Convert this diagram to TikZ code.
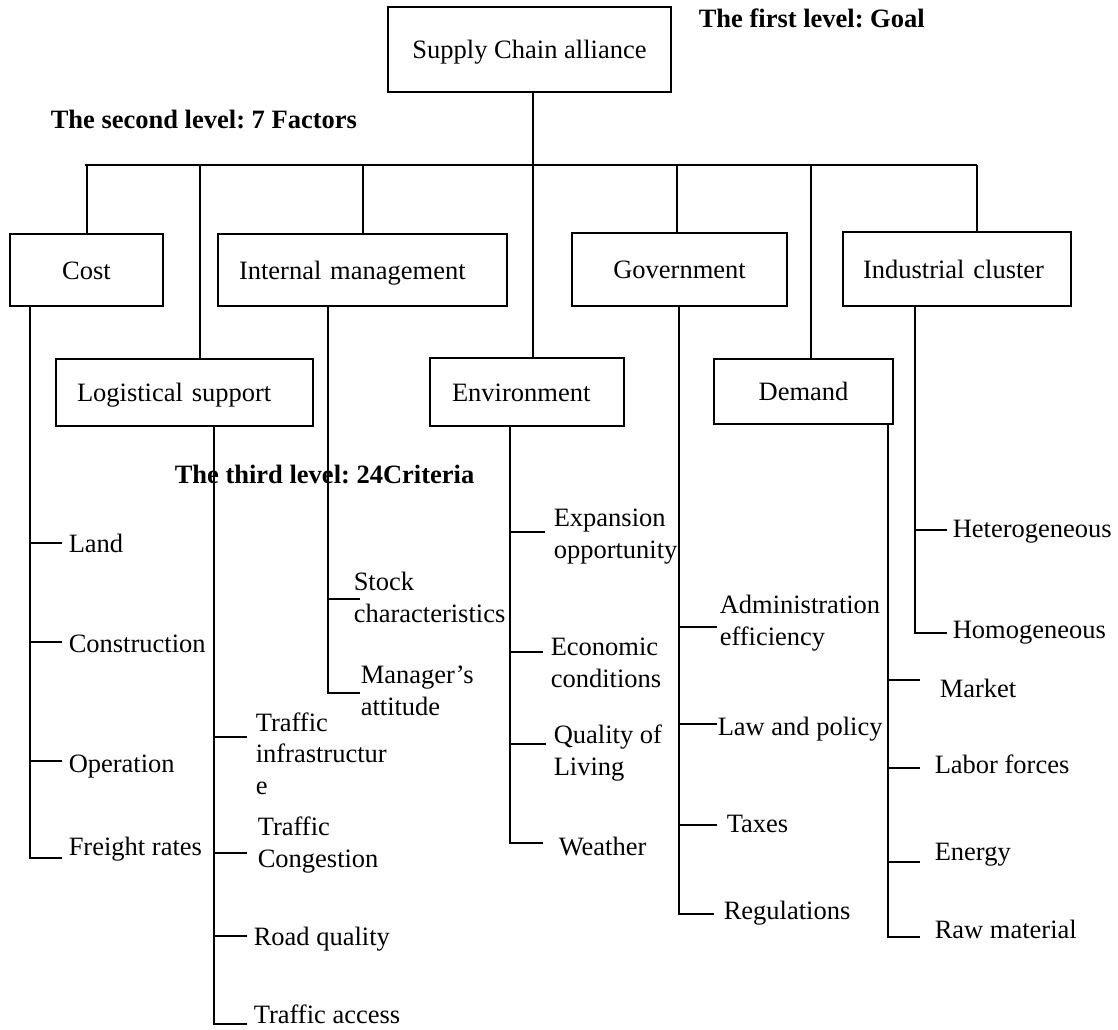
\documentclass[tikz,border=0pt]{standalone}
\usepackage{fontspec}
\setmainfont{Liberation Serif}
\newcommand\myfs{\fontsize{26.5}{31.5}\selectfont\frenchspacing}
\begin{document}
\begin{tikzpicture}[x=1pt,y=-1pt,line width=1.5pt,
  box/.style={draw, line width=1.5pt, inner ysep=0pt, font=\myfs, text height=18.5pt, text depth=0pt},
  cbox/.style 2 args={box, inner xsep=0pt, minimum width=#1, minimum height=#2},
  lbox/.style n args={3}{box, inner xsep=#1, text width=#2, minimum height=#3, align=left},
  crit/.style={anchor=base west, inner sep=0pt, font=\myfs, align=left},
  lvl/.style={anchor=base west, inner sep=0pt, font=\myfs\bfseries}]
\useasboundingbox (0,0) rectangle (1118,1029);

% level titles
\node[lvl] (l1) at (698,27) {The first level: Goal};
\node[lvl] (l2) at (50,128) {The second level: 7 Factors};
\node[lvl] (l3) at (174,483) {The third level: 24Criteria};

% goal and factor boxes
\node[cbox={283pt}{85pt}] (goal) at (529.5,49.5) {Supply Chain alliance};
\node[cbox={153pt}{72pt}] (cost) at (86.5,270) {Cost};
\node[lbox={21pt}{247pt}{72pt}] (intm) at (362.5,270) {Internal management};
\node[cbox={215pt}{73pt}] (gov) at (679.5,269.5) {Government};
\node[lbox={20pt}{188pt}{74pt}] (ind) at (957,269) {Industrial cluster};
\node[lbox={21pt}{215pt}{67pt}] (log) at (184.5,392.5) {Logistical support};
\node[lbox={22pt}{150pt}{68pt}] (env) at (527,392) {Environment};
\node[cbox={179pt}{65pt}] (dem) at (803.5,391.5) {Demand};

% goal to factors
\coordinate (busL) at (85,165);
\coordinate (busR) at (977,165);
\draw (busL) -- (busR);
\draw (goal.south -| 533,0) -- (env.north -| 533,0);
\draw (cost.north -| 87,0) -- (87,165);
\draw (log.north -| 200,0) -- (200,165);
\draw (intm.north -| 363,0) -- (363,165);
\draw (gov.north -| 677,0) -- (677,165);
\draw (dem.north -| 811,0) -- (811,165);
\draw (ind.north -| 977,0) -- (busR);

% criteria spines
\draw (cost.south -| 30,0) |- (62,858);
\foreach \y in {543,642,761} \draw (30,\y) -- (62,\y);
\draw (log.south -| 214,0) |- (247,1024);
\foreach \y in {737,853,936} \draw (214,\y) -- (247,\y);
\draw (intm.south -| 328,0) |- (360,693);
\draw (328,599) -- (360,599);
\draw (env.south -| 510,0) |- (543,843);
\draw (510,532) -- (545,532);
\draw (510,652) -- (543,652);
\draw (510,744) -- (546,744);
\draw (gov.south -| 679,0) |- (714,914);
\foreach \y in {627,724,825} \draw (679,\y) -- (717,\y);
\draw (dem.south -| 888,0) |- (920,937);
\foreach \y in {680,768,862} \draw (888,\y) -- (920,\y);
\draw (ind.south -| 915,0) |- (947,633);
\draw (915,530) -- (947,530);

% criteria labels (y = baseline of last line)
\node[crit] (c1) at (68,552) {Land};
\node[crit] (c2) at (68,652) {Construction};
\node[crit] (c3) at (68,772) {Operation};
\node[crit] (c4) at (68,855) {Freight rates};
\node[crit] (c5) at (255,794) {Traffic\\infrastructur\\e};
\node[crit] (c6) at (257,867) {Traffic\\Congestion};
\node[crit] (c7) at (253,945) {Road quality};
\node[crit] (c8) at (253,1023) {Traffic access};
\node[crit] (c9) at (353,622) {Stock\\characteristics};
\node[crit] (c10) at (360,715) {Manager’s\\attitude};
\node[crit] (c11) at (553,558) {Expansion\\opportunity};
\node[crit] (c12) at (550,687) {Economic\\conditions};
\node[crit] (c13) at (553,775) {Quality of\\Living};
\node[crit] (c14) at (558,855) {Weather};
\node[crit] (c15) at (719,645) {Administration\\efficiency};
\node[crit] (c16) at (717,735) {Law and policy};
\node[crit] (c17) at (726,832) {Taxes};
\node[crit] (c18) at (723,919) {Regulations};
\node[crit] (c19) at (939,697) {Market};
\node[crit] (c20) at (934,773) {Labor forces};
\node[crit] (c21) at (934,860) {Energy};
\node[crit] (c22) at (934,938) {Raw material};
\node[crit] (c23) at (952,537) {Heterogeneous};
\node[crit] (c24) at (952,638) {Homogeneous};
\end{tikzpicture}
\end{document}
